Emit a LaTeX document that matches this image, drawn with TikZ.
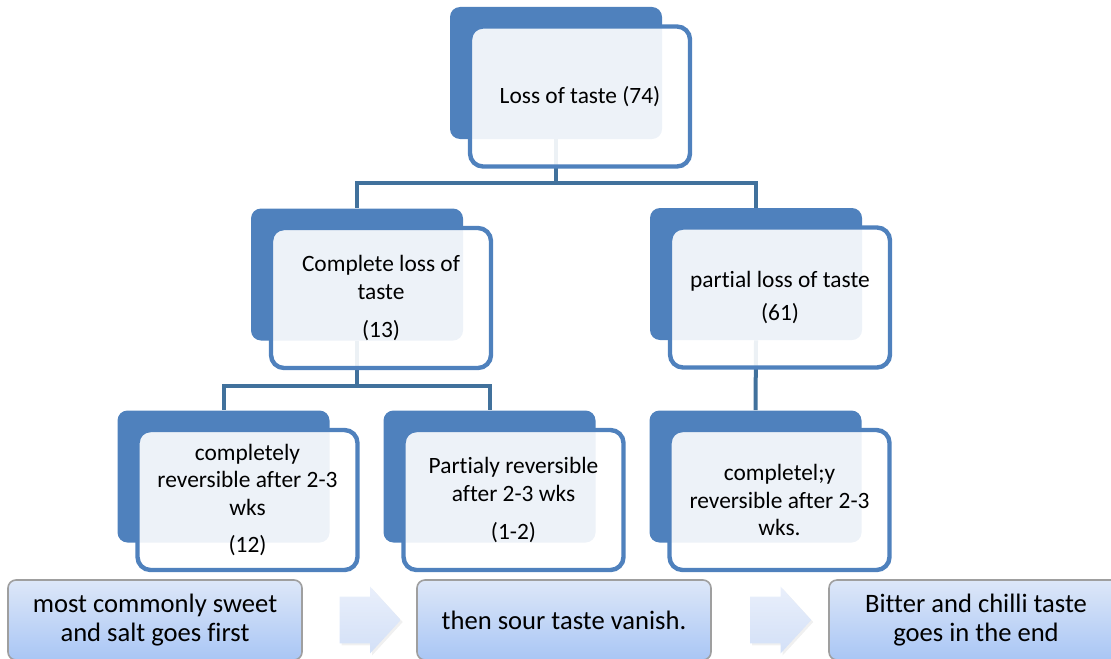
\documentclass[tikz,border=0pt]{standalone}
\usepackage{fontspec}
\setmainfont{Carlito}[Ligatures=NoCommon]
\usetikzlibrary{positioning,calc,shapes.arrows,shadows}
\definecolor{steel}{HTML}{4F81BD}
\definecolor{linkblue}{HTML}{41719C}
\definecolor{stagetop}{HTML}{DDE7F8}
\definecolor{stagebot}{HTML}{A9C6F5}
\definecolor{chevtop}{HTML}{E9EFFB}
\definecolor{chevbot}{HTML}{D3E0F7}

\begin{document}
\begin{tikzpicture}[x=0.5pt, y=-0.5pt,
    back/.style={rounded corners=5pt, fill=steel, minimum width=106pt,
                 minimum height=66pt, inner sep=0pt},
    front/.style={rounded corners=6.5pt, draw=steel, line width=2.2pt, fill=white,
                  fill opacity=0.9, text opacity=1, minimum width=110pt,
                  minimum height=70pt, inner sep=0pt, align=center,
                  font=\fontsize{11.7}{13.8}\selectfont},
    link/.style={linkblue, line width=2pt},
    stage/.style={rounded corners=4pt, draw=gray!75, line width=0.8pt,
                  top color=stagetop, bottom color=stagebot, minimum width=147pt,
                  minimum height=40pt, align=center,
                  font=\fontsize{13.3}{14.8}\selectfont},
    chev/.style={single arrow, single arrow head extend=5pt, single arrow tip angle=95,
                 minimum height=30.5pt, inner xsep=0pt, inner ysep=11.5pt,
                 text height=0pt, text depth=0pt,
                 top color=chevtop, bottom color=chevbot,
                 drop shadow={opacity=0.12, shadow xshift=1pt, shadow yshift=-1pt}}
  ]
  \useasboundingbox (0,0) rectangle (1111,658);
  \clip (0,0) rectangle (1111,658);

  % dark back plates
  \node[back] (b1) at (556,73) {};
  \node[back] (b2) at (357,274.5) {};
  \node[back] (b3) at (756,274) {};
  \node[back] (b4) at (223.5,476.5) {};
  \node[back] (b5) at (489.5,476.5) {};
  \node[back] (b6) at (755.5,476.5) {};

  % tree lines
  \draw[link] (b1.south) -- ++(0,44) -| (b2.north);
  \draw[link] (b1.south) -- ++(0,44) -| (b3.north);
  \draw[link] (b2.south) -- ++(0,45) -| (b4.north);
  \draw[link] (b2.south) -- ++(0,45) -| (b5.north);
  \draw[link] (b3.south) -- (b6.north);

  % text cards
  \node[front] (f1) at ($(b1)+(24,23.5)$) {Loss of taste (74)};
  \node[front] (f2) at ($(b2)+(24,23.5)$) {Complete loss of\\taste\\[5pt](13)};
  \node[front] (f3) at ($(b3)+(24,23.5)$) {partial loss of taste\\[3pt](61)};
  \node[front] (f4) at ($(b4)+(24,23.5)$) {completely\\reversible after 2-3\\wks\\[5pt](12)};
  \node[front] (f5) at ($(b5)+(24,23.5)$) {Partialy reversible\\after 2-3 wks\\[5pt](1-2)};
  \node[front] (f6) at ($(b6)+(24,23.5)$) {completel;y\\reversible after 2-3\\wks.};

  % order of vanishing
  \node[stage] (s1) at (155,620) {most commonly sweet\\and salt goes first};
  \node[stage] (s2) at (564,620) {then sour taste vanish.};
  \node[stage] (s3) at (976,620) {Bitter and chilli taste\\goes in the end};
  \node[chev] (a1) at ($(s1.east)!0.5!(s2.west)$) {};
  \node[chev] (a2) at ($(s2.east)!0.5!(s3.west)$) {};
\end{tikzpicture}
\end{document}
